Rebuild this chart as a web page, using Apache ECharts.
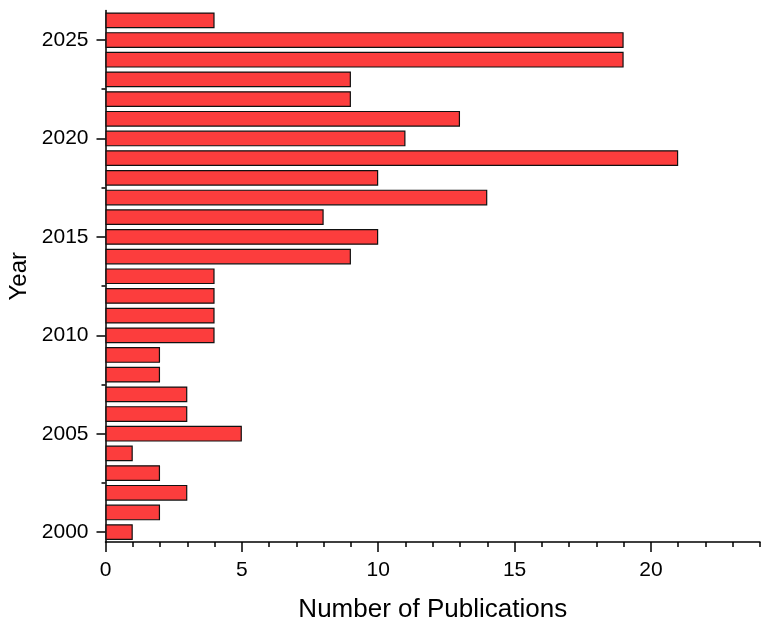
<!DOCTYPE html>
<html>
<head>
<meta charset="utf-8">
<script src="https://cdn.jsdelivr.net/npm/echarts@6/dist/echarts.min.js"></script>
<style>
  html, body { margin: 0; padding: 0; background: #fff; }
  #chart { width: 770px; height: 627px; }
</style>
</head>
<body>
<div id="chart"></div>
<script>
const years = ['2000', '2001', '2002', '2003', '2004', '2005', '2006', '2007', '2008',
    '2009', '2010', '2011', '2012', '2013', '2014', '2015', '2016', '2017', '2018',
    '2019', '2020', '2021', '2022', '2023', '2024', '2025', '2026']
const publications = [1, 2, 3, 2, 1, 5, 3, 3, 2, 2, 4, 4, 4, 4, 9, 10, 8, 14, 10,
    21, 11, 13, 9, 9, 19, 19, 4]
const xMajorTicks = [0, 5, 10, 15, 20]
const yMinorTicks = [2002.5, 2007.5, 2012.5, 2017.5, 2022.5]

const font = 'Liberation Sans, Arial, sans-serif'
const black = '#000'

const chart = echarts.init(document.getElementById('chart'))

chart.setOption({
    animation: false,
    grid: {left: 105.5, right: 10, top: 10.5, bottom: 85, outerBoundsMode: 'none'},
    xAxis: [{
        type: 'value',
        min: 0,
        max: 24,
        interval: 1,
        name: 'Number of Publications',
        nameLocation: 'middle',
        nameGap: 55,
        nameTextStyle: {fontFamily: font, fontSize: 26, color: black},
        axisLine: {show: true, lineStyle: {color: black, width: 1.5}},
        axisTick: {show: true, length: 5, lineStyle: {color: black, width: 1.5}},
        axisLabel: {
            fontFamily: font, fontSize: 21, color: black, margin: 18,
            formatter: v => (v % 5 === 0 && v <= 20 ? String(v) : '')
        },
        splitLine: {show: false}
    }, {
        // longer ticks for the labelled values
        type: 'value',
        position: 'bottom',
        min: 0,
        max: 24,
        axisLine: {show: false},
        axisTick: {show: true, length: 10, customValues: xMajorTicks,
            lineStyle: {color: black, width: 1.5}},
        axisLabel: {show: false},
        splitLine: {show: false}
    }],
    yAxis: [{
        type: 'category',
        data: years,
        name: 'Year',
        nameLocation: 'middle',
        nameGap: 71,
        nameRotate: 90,
        nameTextStyle: {fontFamily: font, fontSize: 24, color: black},
        axisLine: {show: true, lineStyle: {color: black, width: 1.5}},
        axisTick: {
            show: true, length: 9, alignWithLabel: true,
            interval: i => i % 5 === 0,
            lineStyle: {color: black, width: 1.5}
        },
        axisLabel: {
            fontFamily: font, fontSize: 21, color: black, margin: 17,
            interval: i => i % 5 === 0
        },
        splitLine: {show: false}
    }, {
        // minor ticks half way between the labelled years
        type: 'value',
        position: 'left',
        min: 1999.5,
        max: 2026.5,
        axisLine: {show: false},
        axisTick: {show: true, length: 4, customValues: yMinorTicks,
            lineStyle: {color: black, width: 1.5}},
        axisLabel: {show: false},
        splitLine: {show: false}
    }],
    series: [{
        type: 'bar',
        xAxisIndex: 0,
        yAxisIndex: 0,
        data: publications,
        barWidth: '80%',
        itemStyle: {color: '#fc3d3d', borderColor: '#111', borderWidth: 1.2}
    }]
})
</script>
</body>
</html>
